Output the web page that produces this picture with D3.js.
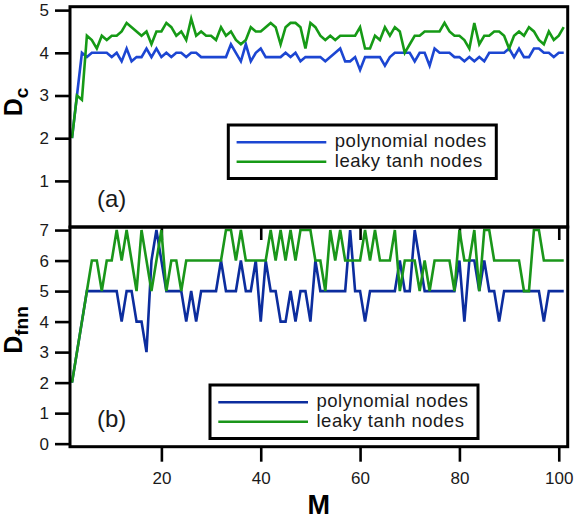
<!DOCTYPE html>
<html>
<head>
<meta charset="utf-8">
<script src="https://d3js.org/d3.v7.min.js"></script>
<style>
  body { margin: 0; background: #fff; }
  text { font-family: "Liberation Sans", Arial, Helvetica, sans-serif; }
</style>
</head>
<body>
<div id="chart"></div>
<script>
// number of nodes M (x values 2..101)
var mValues = d3.range(2, 102);

// panel (a): D_c
var dcPoly = [2.0, 3.0, 4.0, 3.9, 4.0, 4.0, 4.0, 4.0, 3.9, 4.0,
  3.8, 4.1, 3.8, 3.9, 3.9, 4.1, 3.9, 4.1, 3.9, 4.0,
  3.9, 4.0, 4.0, 3.9, 4.0, 4.0, 3.9, 3.9, 3.9, 3.9,
  3.9, 3.9, 4.2, 4.0, 3.8, 4.2, 3.8, 4.0, 4.1, 3.9,
  3.9, 3.9, 3.9, 4.0, 3.9, 4.0, 3.8, 3.9, 3.9, 3.9,
  3.9, 3.8, 3.9, 4.0, 4.1, 3.8, 3.8, 3.9, 3.6, 3.9,
  3.9, 3.9, 3.9, 3.7, 3.9, 4.0, 4.0, 4.0, 4.0, 3.8,
  4.0, 4.0, 3.7, 4.1, 4.0, 4.0, 4.0, 3.9, 3.9, 3.8,
  3.9, 3.8, 3.9, 3.8, 4.0, 4.0, 4.0, 4.0, 4.1, 3.9,
  4.1, 3.9, 3.9, 4.1, 4.1, 4.0, 4.0, 3.9, 4.0, 4.0];

var dcTanh = [2.0, 3.0, 2.9, 4.4, 4.3, 4.1, 4.4, 4.3, 4.4, 4.4,
  4.5, 4.7, 4.6, 4.5, 4.4, 4.5, 4.2, 4.5, 4.5, 4.7,
  4.6, 4.4, 4.5, 4.3, 4.8, 4.4, 4.5, 4.4, 4.4, 4.3,
  4.6, 4.4, 4.5, 4.3, 4.2, 4.3, 4.6, 4.5, 4.5, 4.6,
  4.7, 4.6, 4.2, 4.6, 4.7, 4.7, 4.6, 4.1, 4.7, 4.6,
  4.4, 4.3, 4.4, 4.3, 4.4, 4.4, 4.4, 4.4, 4.6, 4.1,
  4.1, 4.4, 4.3, 4.6, 4.4, 4.6, 4.5, 4.0, 4.2, 4.4,
  4.4, 4.5, 4.5, 4.5, 4.5, 4.7, 4.5, 4.4, 4.4, 4.3,
  4.1, 4.7, 4.2, 4.4, 4.4, 4.5, 4.5, 4.4, 4.1, 4.4,
  4.5, 4.4, 4.6, 4.5, 4.3, 4.2, 4.5, 4.3, 4.4, 4.6];

// panel (b): D_fnn
var fnnPoly = [2, 3, 4, 5, 5, 5, 5, 5, 5, 5,
  4, 5, 5, 4, 4, 3, 6, 7, 6, 5,
  5, 5, 5, 4, 5, 4, 5, 5, 5, 5,
  6, 5, 5, 5, 6, 5, 5, 6, 4, 6,
  5, 5, 4, 4, 5, 4, 5, 5, 4, 6,
  5, 5, 5, 5, 5, 5, 7, 5, 5, 4,
  5, 5, 5, 5, 5, 5, 6, 5, 5, 7,
  6, 5, 5, 5, 5, 5, 5, 5, 6, 4,
  6, 6, 5, 6, 5, 5, 4, 5, 5, 5,
  5, 5, 5, 5, 5, 4, 5, 5, 5, 5];

var fnnTanh = [2, 3, 4, 5, 6, 6, 5, 6, 6, 7,
  6, 7, 6, 5, 7, 6, 5, 6, 7, 5,
  6, 6, 5, 6, 6, 6, 6, 6, 6, 6,
  6, 7, 7, 6, 7, 6, 6, 6, 6, 6,
  7, 6, 7, 6, 7, 6, 7, 7, 7, 6,
  6, 5, 7, 6, 7, 6, 6, 6, 6, 7,
  6, 7, 6, 6, 6, 7, 5, 6, 6, 6,
  5, 6, 5, 6, 6, 6, 6, 5, 7, 6,
  6, 7, 5, 7, 7, 6, 6, 6, 6, 6,
  6, 5, 5, 7, 7, 6, 6, 6, 6, 6];

// tick labels
var xTicks = [20, 40, 60, 80, 100];
var dcTicks = [1, 2, 3, 4, 5];
var fnnTicks = [0, 1, 2, 3, 4, 5, 6, 7];
var seriesNames = ["polynomial nodes", "leaky tanh nodes"];

// svg container
var svgWidth = 574;
var svgHeight = 520;

var svg = d3.select("#chart")
  .append("svg")
  .attr("width", svgWidth)
  .attr("height", svgHeight);

// plot frame edges
var left = 70, right = 567.7;
var topA = 6.7, bottomA = 227, bottomB = 446.7;

var xScale = d3.scaleLinear()
  .domain([1.6, 101.8])
  .range([left, right]);

var yA = d3.scaleLinear()
  .domain([-0.08, 5.08])
  .range([bottomA, topA]);

var yB = d3.scaleLinear()
  .domain([-0.1, 7.1])
  .range([bottomB, bottomA]);

var intFormat = d3.format("d");

function styleAxis(g) {
  g.select(".domain").remove();
  g.selectAll(".tick line")
    .attr("stroke", "#000")
    .attr("stroke-width", 2.6);
  g.selectAll(".tick text")
    .attr("fill", "#1a1a1a")
    .style("font-size", "17px");
}

// left axes
svg.append("g")
  .attr("transform", `translate(${left}, 0)`)
  .call(d3.axisLeft(yA).tickValues(dcTicks).tickFormat(intFormat).tickSize(15).tickPadding(6))
  .call(styleAxis);

svg.append("g")
  .attr("transform", `translate(${left}, 0)`)
  .call(d3.axisLeft(yB).tickValues(fnnTicks).tickFormat(intFormat).tickSize(15).tickPadding(6))
  .call(styleAxis);

// bottom axis of panel (b)
svg.append("g")
  .attr("transform", `translate(0, ${bottomB})`)
  .call(d3.axisBottom(xScale).tickValues(xTicks).tickFormat(intFormat).tickSize(15).tickPadding(10))
  .call(styleAxis);

// ticks of panel (a) hanging into panel (b), no labels
svg.append("g")
  .attr("transform", `translate(0, ${bottomA})`)
  .call(d3.axisBottom(xScale).tickValues(xTicks).tickSize(13).tickFormat(""))
  .call(styleAxis);

// lines
function drawLine(values, yScale, color) {
  var line = d3.line()
    .x((d, i) => xScale(mValues[i]))
    .y(d => yScale(d));
  svg.append("path")
    .datum(values)
    .attr("fill", "none")
    .attr("stroke", color)
    .attr("stroke-width", 2.6)
    .attr("stroke-linejoin", "miter")
    .attr("d", line);
}

drawLine(dcPoly, yA, "#1c46d2");
drawLine(dcTanh, yA, "#169a16");
drawLine(fnnPoly, yB, "#0c2d9e");
drawLine(fnnTanh, yB, "#1a961a");

// frames
svg.append("rect")
  .attr("x", left).attr("y", topA)
  .attr("width", right - left).attr("height", bottomA - topA)
  .attr("fill", "none").attr("stroke", "#000").attr("stroke-width", 3);

svg.append("rect")
  .attr("x", left).attr("y", bottomA)
  .attr("width", right - left).attr("height", bottomB - bottomA)
  .attr("fill", "none").attr("stroke", "#000").attr("stroke-width", 3);

// legends
function drawLegend(x0, y0, colors) {
  var g = svg.append("g").attr("transform", `translate(${x0}, ${y0})`);
  g.append("rect")
    .attr("x", 0).attr("y", 0)
    .attr("width", 268).attr("height", 53.5)
    .attr("fill", "#fff")
    .attr("stroke", "#000")
    .attr("stroke-width", 3);
  seriesNames.forEach(function(name, i) {
    g.append("line")
      .attr("x1", 8.3).attr("x2", 98)
      .attr("y1", 17.3 + i * 19.4).attr("y2", 17.3 + i * 19.4)
      .attr("stroke", colors[i])
      .attr("stroke-width", 2.6);
    g.append("text")
      .attr("x", 106.5)
      .attr("y", 22.4 + i * 19.4)
      .attr("fill", "#1a1a1a")
      .style("font-size", "18.5px")
      .style("letter-spacing", "0.5px")
      .text(name);
  });
}

drawLegend(228.3, 125, ["#1c46d2", "#169a16"]);
drawLegend(210, 385, ["#0c2d9e", "#1a961a"]);

// panel labels
svg.append("text")
  .attr("x", 97).attr("y", 207)
  .attr("fill", "#1a1a1a")
  .style("font-size", "24px")
  .text("(a)");

svg.append("text")
  .attr("x", 97).attr("y", 427)
  .attr("fill", "#1a1a1a")
  .style("font-size", "24px")
  .text("(b)");

// axis titles
function yTitle(cy, sub) {
  var t = svg.append("text")
    .attr("transform", `translate(22, ${cy}) rotate(-90)`)
    .attr("text-anchor", "middle")
    .style("font-weight", "bold")
    .attr("fill", "#000");
  t.append("tspan").style("font-size", "25px").text("D");
  t.append("tspan").attr("dy", 6).style("font-size", "19px").text(sub);
}

yTitle(102, "c");
yTitle(330, "fnn");

svg.append("text")
  .attr("x", (left + right) / 2)
  .attr("y", 514)
  .attr("text-anchor", "middle")
  .style("font-size", "27px")
  .style("font-weight", "bold")
  .attr("fill", "#000")
  .text("M");
</script>
</body>
</html>
